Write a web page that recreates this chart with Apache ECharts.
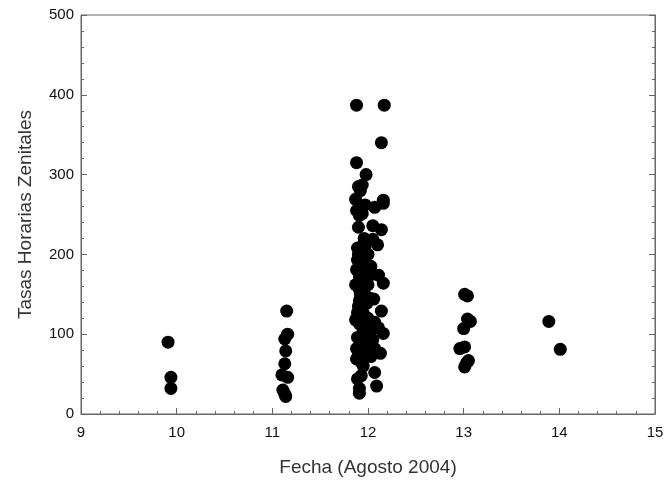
<!DOCTYPE html>
<html><head><meta charset="utf-8">
<script src="https://cdn.jsdelivr.net/npm/echarts@6/dist/echarts.min.js"></script>
<style>html,body{margin:0;padding:0;background:#fff}#c{width:667px;height:482px}</style>
</head><body><div id="c"></div>
<script>
const xTicks = [9, 10, 11, 12, 13, 14, 15];
const yTicks = [0, 100, 200, 300, 400, 500];
const day10 = [[9.91, 90], [9.94, 46], [9.94, 32]];
const day11 = [[11.15, 129], [11.16, 100], [11.13, 94], [11.14, 79], [11.13, 63], [11.10, 49], [11.16, 46], [11.11, 30], [11.14, 22], [11.13, 25]];
const day12 = [
  [11.88, 387], [12.17, 387], [12.14, 340], [11.88, 315], [11.98, 300], [11.90, 285], [11.94, 287],
  [11.92, 280], [11.87, 269], [12.16, 268], [12.16, 264], [11.88, 255], [11.97, 262], [12.07, 259],
  [11.91, 249], [11.94, 251], [11.90, 234], [12.05, 236], [12.14, 231], [11.96, 220], [12.05, 219],
  [12.10, 212], [11.89, 208], [11.93, 206], [11.97, 210], [12.00, 200], [11.89, 193], [11.97, 189],
  [12.03, 185], [11.88, 181], [11.93, 177], [12.11, 174], [12.16, 164], [11.87, 162], [12.00, 162],
  [11.91, 156], [11.96, 152], [12.06, 144], [11.91, 142], [11.99, 139], [12.14, 129], [11.89, 127],
  [11.96, 124], [11.87, 118], [12.07, 115], [11.91, 113], [12.00, 110], [12.11, 108], [12.16, 101],
  [11.89, 96], [11.97, 98], [12.05, 93], [11.92, 90], [11.99, 86], [11.88, 82], [12.07, 82],
  [11.96, 77], [12.13, 76], [12.03, 72], [11.88, 69], [11.93, 65], [12.07, 52], [11.89, 44],
  [11.93, 48], [12.09, 35], [11.91, 32], [11.91, 26],
  [11.95, 170], [11.93, 195], [11.98, 180], [11.90, 135], [11.95, 105], [12.02, 100], [11.92, 85],
  [12.05, 80], [11.95, 60], [11.92, 150], [12.02, 145], [11.90, 200], [11.96, 215], [12.00, 120],
  [11.94, 130], [11.91, 172], [11.98, 166], [12.04, 175], [11.93, 118], [11.98, 92], [12.01, 78]
];
const day13 = [[13.01, 150], [13.04, 148], [13.04, 119], [13.07, 116], [13.00, 107], [13.01, 84], [12.96, 82], [13.05, 67], [13.03, 64], [13.01, 59]];
const day14 = [[13.89, 116], [14.01, 81]];

const allPoints = [].concat(day10, day11, day12, day13, day14);
const axisCol = '#666';
const chart = echarts.init(document.getElementById('c'));
chart.setOption({
  animation: false,
  grid: {left: 81, right: 12, top: 15, bottom: 68, show: true, borderColor: axisCol, borderWidth: 1, backgroundColor: 'transparent'},
  xAxis: {
    type: 'value', min: xTicks[0], max: xTicks[xTicks.length - 1], interval: 1,
    name: 'Fecha (Agosto 2004)', nameLocation: 'middle', nameGap: 44,
    nameTextStyle: {fontFamily: 'Liberation Sans', fontSize: 19, color: '#333'},
    axisLine: {lineStyle: {color: axisCol}},
    axisTick: {inside: true, length: 6, lineStyle: {color: axisCol}},
    minorTick: {show: true, splitNumber: 5, length: 3, lineStyle: {color: axisCol}},
    axisLabel: {fontFamily: 'Liberation Sans', fontSize: 15, color: '#111', margin: 11},
    splitLine: {show: false}
  },
  yAxis: [{
    type: 'value', min: yTicks[0], max: yTicks[yTicks.length - 1], interval: 100,
    name: 'Tasas Horarias Zenitales', nameLocation: 'middle', nameGap: 46,
    nameTextStyle: {fontFamily: 'Liberation Sans', fontSize: 19, color: '#333'},
    axisLine: {lineStyle: {color: axisCol}},
    axisTick: {inside: true, length: 6, lineStyle: {color: axisCol}},
    minorTick: {show: true, splitNumber: 5, length: 3, lineStyle: {color: axisCol}},
    axisLabel: {fontFamily: 'Liberation Sans', fontSize: 15, color: '#111', margin: 7},
    splitLine: {show: false}
  }, {
    type: 'value', min: yTicks[0], max: yTicks[yTicks.length - 1], interval: 100, position: 'right',
    axisLine: {show: true, lineStyle: {color: axisCol}},
    axisTick: {inside: true, length: 6, lineStyle: {color: axisCol}},
    minorTick: {show: true, splitNumber: 5, length: 3, lineStyle: {color: axisCol}},
    axisLabel: {show: false}, splitLine: {show: false}
  }],
  series: [{
    type: 'scatter', data: allPoints, symbolSize: 13,
    itemStyle: {color: '#000', opacity: 1}
  }]
});
</script></body></html>
